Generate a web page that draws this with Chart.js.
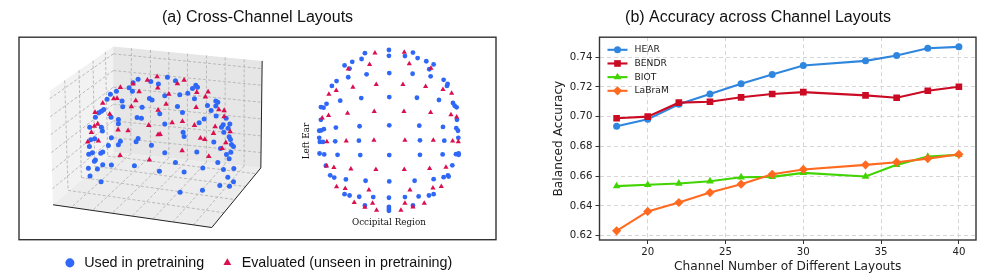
<!DOCTYPE html>
<html>
<head>
<meta charset="utf-8">
<style>
  html, body { margin: 0; padding: 0; background: #fff; overflow: hidden; }
  #wrap { position: relative; width: 996px; height: 280px; overflow: hidden; }
  .box { position: absolute; top: 0; height: 280px; }
  #boxA { left: 0; width: 516px; }
  #boxB { left: 540px; width: 480px; }
</style>
</head>
<body>
<div id="wrap">
  <div class="box" id="boxA"><canvas id="layouts" width="516" height="280"></canvas></div>
  <div class="box" id="boxB"><canvas id="accuracy" width="480" height="280"></canvas></div>
</div>
<script src="https://cdn.jsdelivr.net/npm/chart.js@4"></script>
<script>
// right panel values
const channels = [18, 20, 22, 24, 26, 28, 30, 34, 36, 38, 40];
const hear = [0.6935, 0.6982, 0.7083, 0.7152, 0.7221, 0.7284, 0.7344, 0.7375, 0.7411, 0.746, 0.7469];
const bendr = [0.6989, 0.70, 0.7094, 0.71, 0.713, 0.7152, 0.7165, 0.7143, 0.7127, 0.7174, 0.7201];
const biot = [0.6533, 0.6542, 0.6551, 0.6566, 0.6593, 0.6595, 0.6622, 0.6598, 0.6676, 0.6732, 0.6743];
const labram = [0.6233, 0.6363, 0.6423, 0.649, 0.6546, 0.6613, 0.6645, 0.6676, 0.6694, 0.6718, 0.6747];
const xTicks = [20, 25, 30, 35, 40];
const yTicks = [0.62, 0.64, 0.66, 0.68, 0.70, 0.72, 0.74];

// left panel, 3D view: points (x, y in the view's own units)
const blue3d = [[415,243],[400,254],[453,250],[503,237],[527,248],[476,258],[588,262],[593,268],[578,272],[388,270],
  [398,281],[350,281],[332,290],[322,306],[367,311],[369,329],[449,303],[457,308],[495,295],[540,292],[564,287],
  [584,304],[533,328],[427,331],[623,325],[648,311],[654,315],[648,327],[634,341],[649,358],[679,365],[548,347],
  [480,351],[334,362],[312,338],[305,343],[297,348],[287,362],[356,369],[356,382],[412,363],[425,365],[495,383],
  [598,379],[613,367],[670,385],[690,383],[685,396],[665,393],[672,409],[270,393],[305,393],[308,405],[550,409],
  [553,422],[642,439],[688,423],[692,431],[695,447],[701,453],[273,432],[285,429],[335,426],[415,428],[409,438],
  [362,437],[356,448],[326,450],[269,453],[455,449],[662,459],[693,471],[680,478],[688,491],[591,470],[495,473],
  [309,470],[303,474],[278,473],[267,477],[287,495],[284,499],[309,510],[335,511],[404,513],[266,521],[293,523],
  [527,503],[654,503],[609,520],[671,525],[702,522],[479,530],[553,533],[271,545],[684,549],[701,563],[304,563],
  [660,575],[689,577],[541,596],[608,590]];
const red3d = [[472,235],[443,246],[553,246],[400,258],[533,257],[474,270],[362,269],[418,282],[591,284],[625,283],
  [507,290],[617,298],[342,304],[352,303],[408,310],[309,318],[499,321],[395,329],[589,331],[657,338],[673,341],
  [286,347],[475,340],[330,352],[673,360],[517,379],[548,375],[447,387],[584,387],[294,383],[284,390],[646,391],
  [355,401],[385,404],[691,407],[275,409],[641,412],[475,416],[481,415],[602,427],[615,431],[296,436],[264,439],
  [678,441],[667,459],[547,466],[361,481],[627,484],[449,495]];

// left panel, top-down electrode map
const blueTopo = [[357,62],[357,80],[285,72],[275,90],[247,99],[224,110],[239,120],[429,70],[405,81],[443,87],[469,97],
  [491,107],[478,122],[290,138],[358,134],[428,136],[482,144],[235,147],[200,159],[186,174],[521,155],[533,168],
  [531,174],[274,212],[358,209],[441,211],[507,218],[211,220],[170,230],[153,240],[161,242],[549,227],[554,236],
  [560,241],[153,280],[561,280],[559,306],[564,314],[519,302],[448,298],[358,297],[269,300],[198,304],[162,309],
  [154,313],[148,314],[148,336],[150,349],[159,349],[196,347],[267,345],[450,344],[523,345],[565,336],[149,385],
  [163,388],[203,389],[271,390],[358,390],[450,389],[518,388],[558,387],[566,385],[566,389],[168,423],[547,422],
  [181,453],[193,460],[228,466],[287,470],[358,472],[434,470],[491,465],[521,459],[534,453],[536,457],[224,512],
  [239,516],[268,520],[310,521],[357,523],[405,521],[446,519],[477,516],[491,512],[285,547],[429,547],[357,552],
  [357,558],[357,564]];
const redTopo = [[315,71],[403,69],[299,107],[418,105],[235,121],[483,119],[249,178],[319,170],[399,170],[467,176],
  [199,188],[177,200],[519,185],[545,197],[233,259],[313,254],[402,254],[482,257],[176,266],[157,274],[543,264],
  [560,271],[171,348],[229,346],[312,344],[405,344],[490,344],[548,346],[565,348],[170,424],[192,429],[243,433],
  [318,435],[403,435],[479,432],[528,428],[200,489],[226,494],[297,499],[420,499],[489,493],[514,488],[253,538],
  [308,540],[405,540],[463,540],[285,553],[320,562],[393,562],[429,552]];

// 3D box: panes and grid
const leftPane = [[150,280],[340,141],[342,470],[160,635]];
const backPane = [[340,141],[787,186],[783,520],[342,470]];
const floorPane = [[160,635],[636,706],[783,520],[342,470]];
const gridLines3d = [
  [[395,146],[393,476]],[[452,152],[452,483]],[[507,158],[507,489]],[[563,163],[563,495]],
  [[620,169],[620,502]],[[676,175],[676,508]],[[733,181],[733,514]],
  [[341,164],[785,210]],[[341,216],[785,262]],[[341,268],[785,315]],[[341,321],[785,367]],
  [[341,373],[784,420]],[[342,426],[784,472]],
  [[150,304],[341,164]],[[152,360],[341,216]],[[153,416],[341,268]],[[155,472],[341,321]],
  [[157,528],[341,373]],[[158,585],[342,426]],
  [[195,247],[205,590]],[[238,215],[245,550]],[[280,185],[285,515]],[[317,158],[324,483]],
  [[393,476],[215,643]],[[452,483],[279,652]],[[507,489],[338,661]],[[563,495],[398,670]],
  [[620,502],[460,679]],[[676,508],[520,688]],[[733,514],[581,698]],
  [[205,590],[672,660]],[[245,550],[705,619]],[[285,515],[737,578]],[[324,483],[768,538]]
];
const axisEdges3d = [[[160,635],[636,706]], [[636,706],[783,520]], [[783,520],[787,186]]];

const toPoints = (list) => list.map((p) => ({ x: p[0], y: p[1] }));
function toSegments(list) {
  const out = [];
  list.forEach((seg) => {
    out.push({ x: seg[0][0], y: seg[0][1] }, { x: seg[1][0], y: seg[1][1] }, { x: null, y: null });
  });
  return out;
}

const SANS = "'Liberation Sans', Arial, sans-serif";
const DEJAVU = "'DejaVu Sans', sans-serif";
const SERIF = "'DejaVu Serif', serif";
const BLUE = "#2f67f6";
const RED = "#d90f4e";

const framePlugin = {
  id: "frame",
  afterDatasetsDraw(chart) {
    const { ctx, chartArea: a } = chart;
    ctx.save();
    ctx.strokeStyle = "#333";
    ctx.lineWidth = 1.4;
    ctx.strokeRect(a.left, a.top, a.right - a.left, a.bottom - a.top);
    ctx.restore();
  },
};

// the two captions of the electrode map
const captionPlugin = {
  id: "captions",
  afterDatasetsDraw(chart) {
    const { ctx, scales } = chart;
    const px = scales.xTopo.getPixelForValue(357);
    const py = scales.yTopo.getPixelForValue(600);
    ctx.save();
    ctx.fillStyle = "#111";
    ctx.font = "8.8px " + SERIF;
    ctx.textAlign = "center";
    ctx.textBaseline = "middle";
    ctx.fillText("Occipital Region", px, py);
    ctx.translate(scales.xTopo.getPixelForValue(110), scales.yTopo.getPixelForValue(346));
    ctx.rotate(-Math.PI / 2);
    ctx.fillText("Left Ear", 0, 0);
    ctx.restore();
  },
};

function pane(data, color, order) {
  return {
    label: "",
    data: toPoints(data.concat([data[0]])),
    showLine: true,
    fill: "shape",
    backgroundColor: color,
    borderWidth: 0,
    pointRadius: 0,
    order: order,
  };
}

new Chart(document.getElementById("layouts"), {
  type: "scatter",
  data: {
    datasets: [
      pane(leftPane, "#f2f2f2", 10),
      pane(backPane, "#e6e6e6", 10),
      pane(floorPane, "#ececec", 10),
      { label: "", data: toSegments(gridLines3d), showLine: true, borderColor: "#b4b4b4", borderWidth: 0.9,
        borderDash: [3, 2], pointRadius: 0, order: 9 },
      { label: "", data: toSegments(axisEdges3d), showLine: true, borderColor: "#222", borderWidth: 1,
        pointRadius: 0, order: 8 },
      { label: "Used in pretraining", data: toPoints(blue3d), backgroundColor: BLUE, borderWidth: 0,
        pointRadius: 2.5, pointStyle: "circle", order: 2 },
      { label: "Evaluated (unseen in pretraining)", data: toPoints(red3d), backgroundColor: RED, borderWidth: 0,
        pointRadius: 3.2, pointStyle: "triangle", order: 1 },
      { label: "", data: toPoints(blueTopo), xAxisID: "xTopo", yAxisID: "yTopo", backgroundColor: BLUE,
        borderWidth: 0, pointRadius: 2.4, pointStyle: "circle", order: 2 },
      { label: "", data: toPoints(redTopo), xAxisID: "xTopo", yAxisID: "yTopo", backgroundColor: RED,
        borderWidth: 0, pointRadius: 3, pointStyle: "triangle", order: 1 },
    ],
  },
  options: {
    responsive: false,
    animation: false,
    layout: { padding: { left: 19, right: 20, top: 0, bottom: 0 } },
    scales: {
      x: { type: "linear", display: false, min: 58, max: 1488 },
      y: { type: "linear", display: false, min: 112, max: 744, reverse: true },
      xTopo: { type: "linear", display: false, axis: "x", min: -752, max: 678 },
      yTopo: { type: "linear", display: false, axis: "y", min: 22, max: 654, reverse: true },
    },
    plugins: {
      tooltip: { enabled: false },
      title: {
        display: true,
        text: "(a) Cross-Channel Layouts",
        color: "#111",
        font: { family: SANS, size: 16, weight: "normal" },
        padding: { top: 8, bottom: 10 },
      },
      legend: {
        position: "bottom",
        labels: {
          filter: (item) => item.text !== "",
          sort: (a, b) => a.datasetIndex - b.datasetIndex,
          usePointStyle: true,
          boxHeight: 6.4,
          padding: 16,
          color: "#111",
          font: { family: SANS, size: 14.3 },
        },
      },
    },
  },
  plugins: [framePlugin, captionPlugin],
});

function series(label, values, color, style, radius, order) {
  return {
    label: label,
    data: values.map((v, i) => ({ x: channels[i], y: v })),
    showLine: true,
    tension: 0,
    borderColor: color,
    backgroundColor: color,
    borderWidth: 2.1,
    pointStyle: style,
    pointRadius: radius,
    pointBorderWidth: 0,
    order: order,
  };
}

// matplotlib style legend: line with the marker on top of it
const lineLegendPlugin = {
  id: "lineLegend",
  afterDatasetsDraw(chart) {
    const { ctx, chartArea: a } = chart;
    const x0 = a.left + 8, lineLen = 20, rowH = 13.67, y0 = a.top + 12.6;
    chart.data.datasets.forEach((ds, i) => {
      const y = y0 + i * rowH;
      ctx.save();
      ctx.strokeStyle = ds.borderColor;
      ctx.lineWidth = ds.borderWidth;
      ctx.beginPath();
      ctx.moveTo(x0, y);
      ctx.lineTo(x0 + lineLen, y);
      ctx.stroke();
      ctx.fillStyle = ds.backgroundColor;
      Chart.helpers.drawPoint(ctx, { pointStyle: ds.pointStyle, radius: ds.pointRadius, borderWidth: 0 }, x0 + lineLen / 2, y);
      ctx.fillStyle = "#222";
      ctx.font = "9.2px " + DEJAVU;
      ctx.textAlign = "left";
      ctx.textBaseline = "middle";
      ctx.fillText(ds.label, x0 + lineLen + 7, y);
      ctx.restore();
    });
  },
};

const gridOpts = { color: "#d6d6d6", lineWidth: 1, tickColor: "#333", tickLength: 4, drawTicks: true };

new Chart(document.getElementById("accuracy"), {
  type: "scatter",
  data: {
    datasets: [
      series("HEAR", hear, "#2f86de", "circle", 3.5, 4),
      series("BENDR", bendr, "#cb0a24", "rect", 4.7, 3),
      series("BIOT", biot, "#41d400", "triangle", 4.4, 2),
      series("LaBraM", labram, "#ff6a20", "rectRot", 4.6, 1),
    ],
  },
  options: {
    responsive: false,
    animation: false,
    layout: { padding: { left: 0, right: 44, top: 0, bottom: 0 } },
    scales: {
      x: {
        type: "linear",
        min: 16.9,
        max: 41.1,
        grid: gridOpts,
        border: { display: false, dash: [4, 3] },
        afterBuildTicks: (s) => { s.ticks = xTicks.map((v) => ({ value: v })); },
        afterFit: (s) => { s.height = 40; },
        ticks: { color: "#222", padding: 2, maxRotation: 0, font: { family: DEJAVU, size: 10.2 } },
        title: {
          display: true,
          text: "Channel Number of Different Layouts",
          color: "#222",
          font: { family: DEJAVU, size: 12.2 },
          padding: { top: 0, bottom: 6 },
        },
      },
      y: {
        type: "linear",
        min: 0.6171,
        max: 0.7534,
        grid: gridOpts,
        border: { display: false, dash: [4, 3] },
        afterBuildTicks: (s) => { s.ticks = yTicks.map((v) => ({ value: v })); },
        afterFit: (s) => { s.width = 59.5; },
        ticks: {
          color: "#222",
          padding: 3,
          font: { family: DEJAVU, size: 10.2 },
          callback: (v) => v.toFixed(2),
        },
        title: {
          display: true,
          text: "Balanced Accuracy",
          color: "#222",
          font: { family: DEJAVU, size: 12.2 },
          padding: { top: 12, bottom: 0 },
        },
      },
    },
    plugins: {
      tooltip: { enabled: false },
      legend: { display: false },
      title: {
        display: true,
        text: "(b) Accuracy across Channel Layouts",
        color: "#111",
        font: { family: SANS, size: 16, weight: "normal" },
        padding: { top: 8, bottom: 10 },
      },
    },
  },
  plugins: [framePlugin, lineLegendPlugin],
});

</script>
</body>
</html>
